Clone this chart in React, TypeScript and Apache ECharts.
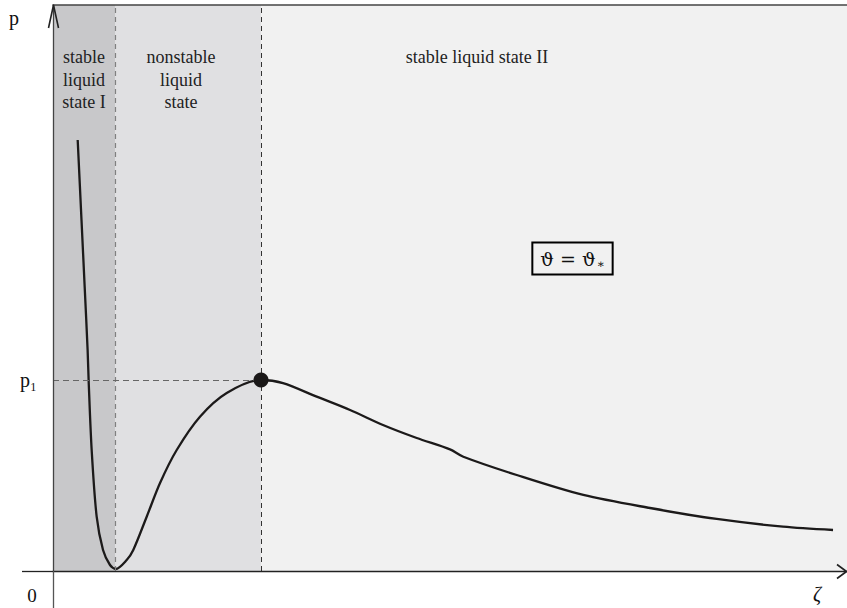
import React, { useEffect, useRef } from "react";
import * as echarts from "echarts";

// ζ (horizontal) and p (vertical) values of the isotherm, axis range 0..100
const zeta = [3.11, 3.59, 3.99, 4.36, 4.5, 4.87, 5.5, 6.3, 7.18, 7.9, 9.28, 10.11, 11.8, 13.48, 15.58, 18.51, 21.88, 26.2, 28.97, 33.21, 37.41, 41.56, 45.81, 50.0, 51.68, 58.4, 66.79, 75.19, 83.59, 91.94, 98.24];
const pressure = [76.15, 62.0, 50.18, 39.05, 33.22, 21.38, 9.59, 3.71, 1.06, 0.35, 1.94, 3.71, 9.59, 15.55, 21.38, 27.26, 31.45, 33.75, 33.2, 30.8, 28.45, 25.8, 23.5, 21.5, 20.19, 16.96, 13.43, 11.13, 9.19, 7.83, 7.24];

// region boundaries along ζ
const regionBounds = [0, 7.81, 26.2, 100];
const regionColors = ["#c8c8ca", "#e0e0e2", "#f1f1f1"];
const regionLabels = ["stable\nliquid\nstate I", "nonstable\nliquid\nstate", "stable liquid state II"];

// maximum point (ζ1, p1)
const peakZeta = 26.2;
const peakP = 33.75;

export default function App() {
  const ref = useRef<HTMLDivElement>(null);
  useEffect(() => {
    if (!ref.current) return;
    const chart = echarts.init(ref.current, null, { renderer: "svg" });
    const serif = "Liberation Serif";
    const curveData = zeta.map((z, i) => [z, pressure[i]]);
    const areas = regionColors.map((c, i) => [
      { xAxis: regionBounds[i], itemStyle: { color: c } },
      { xAxis: regionBounds[i + 1] },
    ]);
    const label = (x: number, text: string) => ({
      type: "text",
      x,
      y: 46,
      z: 30,
      style: { text, font: `18px "${serif}"`, lineHeight: 22.5, fill: "#222", align: "center", verticalAlign: "top" },
    });
    chart.setOption({
      animation: false,
      backgroundColor: "#ffffff",
      grid: { left: 53, right: 0, top: 5, bottom: 37 },
      xAxis: [
        {
          type: "value",
          min: 0,
          max: 100,
          position: "bottom",
          z: 10,
          axisLine: { show: true, onZero: false, lineStyle: { color: "#222", width: 1.3 } },
          axisTick: { show: false },
          axisLabel: { show: false },
          splitLine: { show: false },
        },
        {
          type: "value",
          min: 0,
          max: 100,
          position: "top",
          z: 10,
          axisLine: { show: true, onZero: false, lineStyle: { color: "#444", width: 1.6 } },
          axisTick: { show: false },
          axisLabel: { show: false },
          splitLine: { show: false },
        },
      ],
      yAxis: {
        type: "value",
        min: 0,
        max: 100,
        z: 10,
        axisLine: { show: true, onZero: false, lineStyle: { color: "#444", width: 1.3 } },
        axisTick: { show: false },
        axisLabel: { show: false },
        splitLine: { show: false },
      },
      series: [
        {
          type: "line",
          data: curveData,
          smooth: 0.3,
          showSymbol: false,
          symbol: "none",
          lineStyle: { color: "#1c1a1a", width: 2.3 },
          markArea: { silent: true, data: areas },
          markLine: {
            silent: true,
            symbol: "none",
            lineStyle: { type: [5, 4], width: 1 },
            label: { show: false },
            data: [
              [
                { coord: [regionBounds[1], 0], lineStyle: { color: "#808080", type: [5, 4], width: 1.2 } },
                { coord: [regionBounds[1], 100] },
              ],
              [
                { coord: [peakZeta, 0], lineStyle: { color: "#333", type: [5, 4], width: 1 } },
                { coord: [peakZeta, 100] },
              ],
              [
                {
                  coord: [0, peakP],
                  lineStyle: { color: "#666", type: [6, 4], width: 1.2 },
                  label: {
                    show: true,
                    position: "start",
                    formatter: "p\u2081",
                    distance: 16,
                    fontFamily: serif,
                    fontSize: 20,
                    color: "#111",
                  },
                },
                { coord: [peakZeta, peakP] },
              ],
            ],
          },
        },
        {
          type: "scatter",
          data: [[peakZeta, peakP]],
          symbol: "circle",
          symbolSize: 15,
          itemStyle: { color: "#1a1818", opacity: 1 },
          z: 6,
        },
      ],
      graphic: [
        { type: "line", z: 30, shape: { x1: 53.5, y1: 571, x2: 53.5, y2: 608 }, style: { stroke: "#555", lineWidth: 1.3 } },
        { type: "line", z: 30, shape: { x1: 22, y1: 571.5, x2: 53, y2: 571.5 }, style: { stroke: "#222", lineWidth: 1.3 } },
        { type: "polyline", z: 30, shape: { points: [[48.5, 28], [53.5, 5], [58.5, 28]] }, style: { stroke: "#222", lineWidth: 1.6, fill: null } },
        { type: "polyline", z: 30, shape: { points: [[837, 564.5], [846.5, 571.5], [837, 578.5]] }, style: { stroke: "#222", lineWidth: 1.6, fill: null } },
        { type: "text", z: 30, x: 14, y: 18, style: { text: "p", font: `20px "${serif}"`, fill: "#111", align: "center", verticalAlign: "middle" } },
        { type: "text", z: 30, x: 32, y: 595, style: { text: "0", font: `19px "${serif}"`, fill: "#111", align: "center", verticalAlign: "middle" } },
        { type: "text", z: 30, x: 817, y: 594, style: { text: "\u03b6", font: `italic 20px "${serif}"`, fill: "#111", align: "center", verticalAlign: "middle" } },
        label(84, regionLabels[0]),
        label(181, regionLabels[1]),
        label(477, regionLabels[2]),
        {
          type: "text",
          x: 572.5,
          y: 258.5,
          z: 30,
          style: {
            text: "{a|\u03d1 = \u03d1}{b|\u2217}",
            align: "center",
            verticalAlign: "middle",
            backgroundColor: "#f1f1f1",
            borderColor: "#000",
            borderWidth: 2,
            padding: [4, 7, 4, 7],
            rich: {
              a: { fontFamily: "DejaVu Serif", fontSize: 19, fill: "#111", color: "#111" },
              b: { fontFamily: "DejaVu Serif", fontSize: 12, fill: "#111", color: "#111", padding: [10, 0, 0, 1] },
            },
          },
        },
      ],
    });
    return () => chart.dispose();
  }, []);
  return <div ref={ref} style={{ position: "fixed", left: 0, top: 0, width: 847, height: 608 }} />;
}
